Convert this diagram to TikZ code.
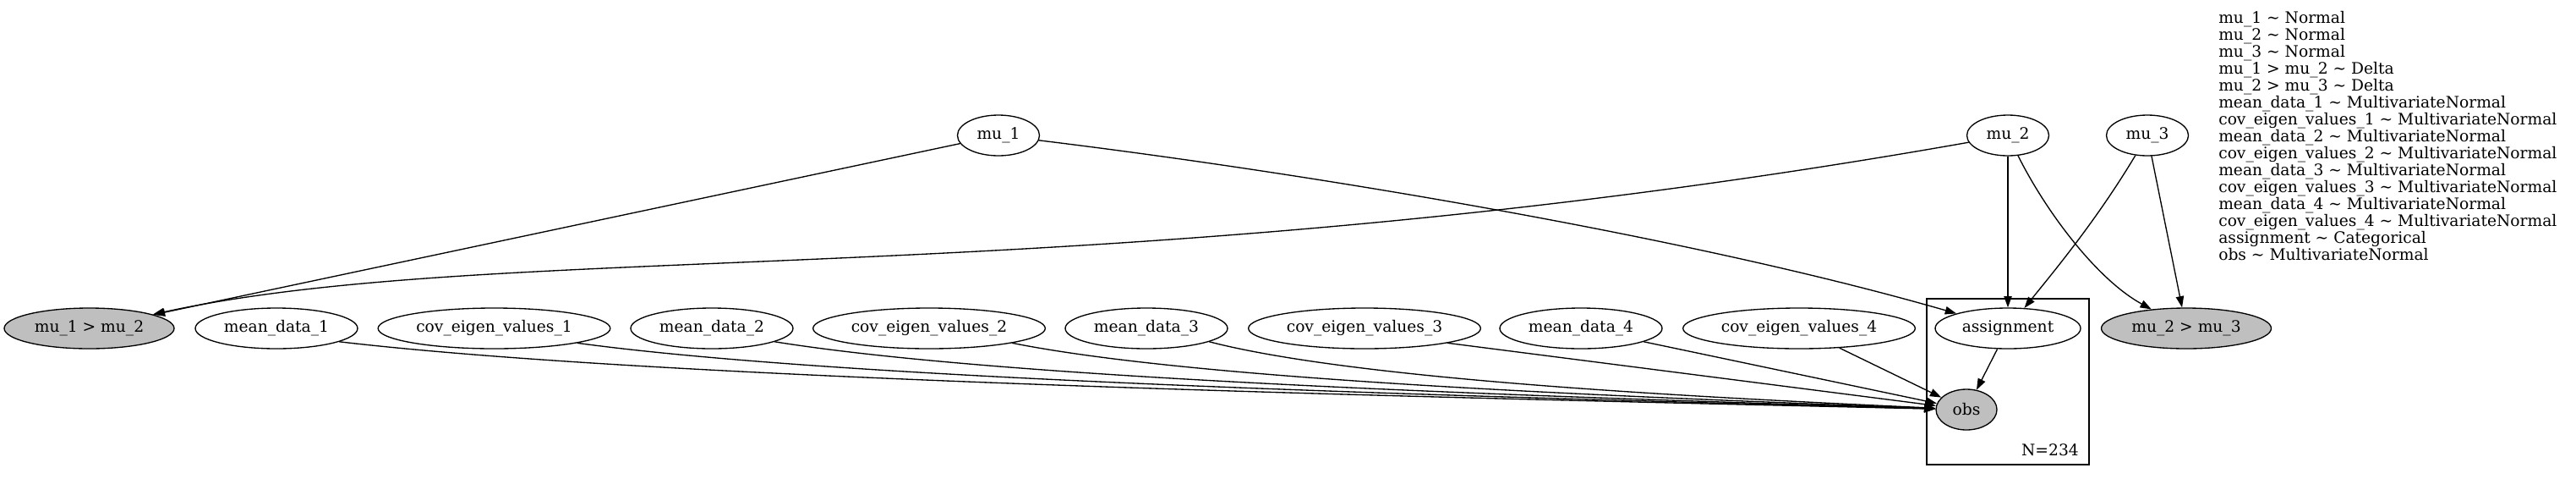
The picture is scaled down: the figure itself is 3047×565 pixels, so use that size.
\documentclass[tikz,border=0pt]{standalone}
\usepackage{fontspec}
\setmainfont{DejaVu Serif}
\usetikzlibrary{shapes.geometric,arrows.meta}

\begin{document}
\begin{tikzpicture}[x=0.75pt,y=-0.75pt, % 1 unidad = 1 pixel, eje y hacia abajo
    var/.style={ellipse, draw, line width=1pt, inner sep=0pt, minimum height=36pt, font=\fontsize{14}{15}\selectfont},
    obsvar/.style={var, fill=lightgray},
    edge/.style={line width=1pt, -{Triangle[length=10pt,width=7pt]}}]

        \useasboundingbox (0,0) rectangle (3047,565);

        % Variables de arriba
        \node[var, minimum width=72.75pt] (mu1) at (1181,160) {mu\_1};
        \node[var, minimum width=72.75pt] (mu2) at (2375,160) {mu\_2};
        \node[var, minimum width=72.75pt] (mu3) at (2540,160) {mu\_3};

        % Fila del medio
        \node[obsvar, minimum width=150.75pt] (m12) at (105.5,388) {mu\_1 > mu\_2};
        \node[var, minimum width=144pt] (md1) at (327,388) {mean\_data\_1};
        \node[var, minimum width=206pt] (cov1) at (584.5,388) {cov\_eigen\_values\_1};
        \node[var, minimum width=144pt] (md2) at (842,388) {mean\_data\_2};
        \node[var, minimum width=206pt] (cov2) at (1099,388) {cov\_eigen\_values\_2};
        \node[var, minimum width=144pt] (md3) at (1356,388) {mean\_data\_3};
        \node[var, minimum width=206pt] (cov3) at (1614,388) {cov\_eigen\_values\_3};
        \node[var, minimum width=144pt] (md4) at (1870,388) {mean\_data\_4};
        \node[var, minimum width=206pt] (cov4) at (2128,388) {cov\_eigen\_values\_4};
        \node[var, minimum width=129pt] (asg) at (2375,388) {assignment};
        \node[obsvar, minimum width=150.75pt] (m23) at (2586,388) {mu\_2 > mu\_3};

        % Observaciones dentro de la placa
        \node[obsvar, minimum width=54pt] (obs) at (2326,484) {obs};
        \draw[line width=1pt] (2279,353) rectangle (2471,549);
        \node[anchor=base east, inner sep=0pt, font=\fontsize{14}{15}\selectfont] (nlab) at (2459,538) {N=234};

        % Aristas desde arriba
        \draw[edge] (mu1) -- (m12);
        \draw[edge] (mu2) .. controls (1300,350) and (600,280) .. (m12);
        \draw[edge] (mu1) .. controls (1550,205) and (2000,280) .. (asg);
        \draw[edge] (mu2) -- (asg);
        \draw[edge] (mu3) .. controls (2480,260) and (2430,320) .. (asg);
        \draw[edge] (mu2) .. controls (2420,250) and (2480,330) .. (m23);
        \draw[edge] (mu3) -- (m23);
        \draw[edge] (asg) -- (obs);

        % Aristas hacia obs
        \draw[edge] (md1.-12) .. controls (797,450) and (1704,470) .. (obs);
        \draw[edge] (cov1.-10) .. controls (1019,451) and (1791,470) .. (obs);
        \draw[edge] (md2.-12) .. controls (1204,450) and (1864,470) .. (obs);
        \draw[edge] (cov2.-10) .. controls (1426,451) and (1951,470) .. (obs);
        \draw[edge] (md3.-12) .. controls (1609,450) and (2023,470) .. (obs);
        \draw[edge] (cov3.-10) -- (obs);
        \draw[edge] (md4.-12) -- (obs);
        \draw[edge] (cov4) -- (obs);

        % Leyenda de distribuciones
        \node[anchor=north west, align=left, inner sep=0pt, font=\fontsize{14}{15}\selectfont] (legend) at (2624,13) {%
            mu\_1 \textasciitilde{} Normal\\
            mu\_2 \textasciitilde{} Normal\\
            mu\_3 \textasciitilde{} Normal\\
            mu\_1 > mu\_2 \textasciitilde{} Delta\\
            mu\_2 > mu\_3 \textasciitilde{} Delta\\
            mean\_data\_1 \textasciitilde{} MultivariateNormal\\
            cov\_eigen\_values\_1 \textasciitilde{} MultivariateNormal\\
            mean\_data\_2 \textasciitilde{} MultivariateNormal\\
            cov\_eigen\_values\_2 \textasciitilde{} MultivariateNormal\\
            mean\_data\_3 \textasciitilde{} MultivariateNormal\\
            cov\_eigen\_values\_3 \textasciitilde{} MultivariateNormal\\
            mean\_data\_4 \textasciitilde{} MultivariateNormal\\
            cov\_eigen\_values\_4 \textasciitilde{} MultivariateNormal\\
            assignment \textasciitilde{} Categorical\\
            obs \textasciitilde{} MultivariateNormal};

\end{tikzpicture}
\end{document}
